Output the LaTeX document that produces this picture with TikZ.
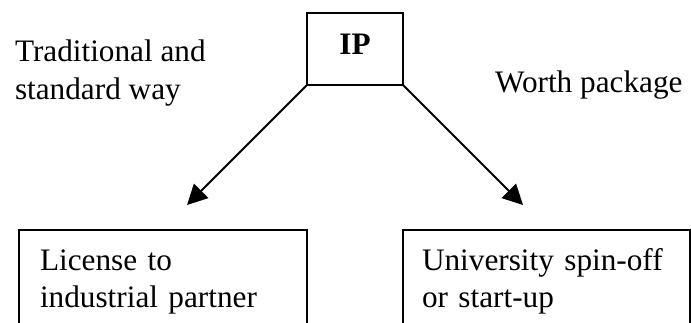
\documentclass[tikz,border=0pt]{standalone}
\usepackage{fontspec}
\setmainfont{Liberation Serif}
\usetikzlibrary{arrows.meta}
\begin{document}
\begin{tikzpicture}[x=0.4pt,y=-0.4pt,line width=0.8pt,
    every node/.style={font=\fontsize{12.5}{15}\selectfont, outer sep=0pt}]

      \useasboundingbox (0,0) rectangle (691,322);
      \clip (0,0) rectangle (691,322);

      \begin{scope}[every node/.append style={draw, inner sep=0pt}]
        \node (1) at (355,49) [minimum width=38.4pt, minimum height=28.8pt,
          text depth=4pt, font=\fontsize{12.5}{15}\selectfont\bfseries] {IP};
        \node (2) at (19,270) [anchor=base west, inner xsep=8.4pt, text width=98.4pt,
          align=left, text height=16pt, text depth=30pt] {License to\\industrial partner};
        \node (3) at (403,270) [anchor=base west, inner xsep=7.6pt, text width=99.6pt,
          align=left, text height=16pt, text depth=30pt] {University spin-off\\or start-up};
      \end{scope}

      \begin{scope}[every node/.append style={inner sep=0pt, anchor=base west}]
        \node (4) at (15,99) [align=left] {Traditional and\\standard way};
        \node (5) at (495,92) {Worth package};
      \end{scope}

      \coordinate (6) at (187,205);
      \coordinate (7) at (523,205);

      \begin{scope}[every path/.style={draw, -{Triangle[length=8pt,width=8pt]}}]
        \path (1.south west) -- (6);
        \path (1.south east) -- (7);
      \end{scope}

    \end{tikzpicture}
\end{document}
